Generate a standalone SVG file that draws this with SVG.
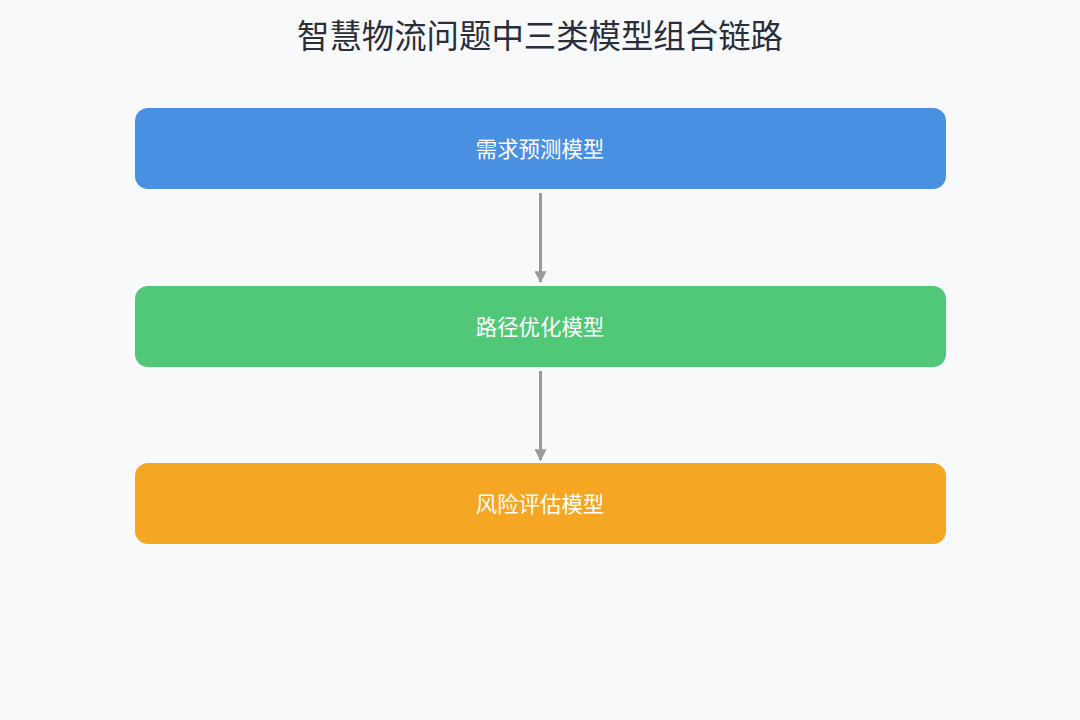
<svg xmlns="http://www.w3.org/2000/svg" width="1080" height="720" viewBox="0 0 1080 720">
<style>
.title{font-family:"Noto Sans CJK SC","Noto Sans",sans-serif;font-size:32.4px;fill:#2a2e3a;text-anchor:middle}
.lbl{font-family:"Noto Sans CJK SC","Noto Sans",sans-serif;font-size:21.4px;fill:#ffffff;text-anchor:middle;dominant-baseline:central}
.edge{stroke:#9a9a9a;stroke-width:3;fill:none}
</style>
<defs>
<marker id="ah" viewBox="0 0 10 10" refX="9" refY="5" markerWidth="4" markerHeight="4" orient="auto" markerUnits="strokeWidth">
<path d="M0,0 L10,5 L0,10 z" fill="#9a9a9a"/>
</marker>
</defs>
<rect width="1080" height="720" fill="#f8f9fb"/>
<text class="title" x="540" y="48">智慧物流问题中三类模型组合链路</text>
<g id="connectors">
<line class="edge" x1="540.5" y1="193" x2="540.5" y2="282" marker-end="url(#ah)"/>
<line class="edge" x1="540.5" y1="371" x2="540.5" y2="460" marker-end="url(#ah)"/>
</g>
<g id="node1">
<rect x="135" y="108" width="811" height="81" rx="13" fill="#4a90e2"/>
<text class="lbl" x="540" y="147">需求预测模型</text>
</g>
<g id="node2">
<rect x="135" y="286" width="811" height="81" rx="13" fill="#50c878"/>
<text class="lbl" x="540" y="325">路径优化模型</text>
</g>
<g id="node3">
<rect x="135" y="463" width="811" height="81" rx="13" fill="#f5a623"/>
<text class="lbl" x="540" y="502">风险评估模型</text>
</g>
</svg>
